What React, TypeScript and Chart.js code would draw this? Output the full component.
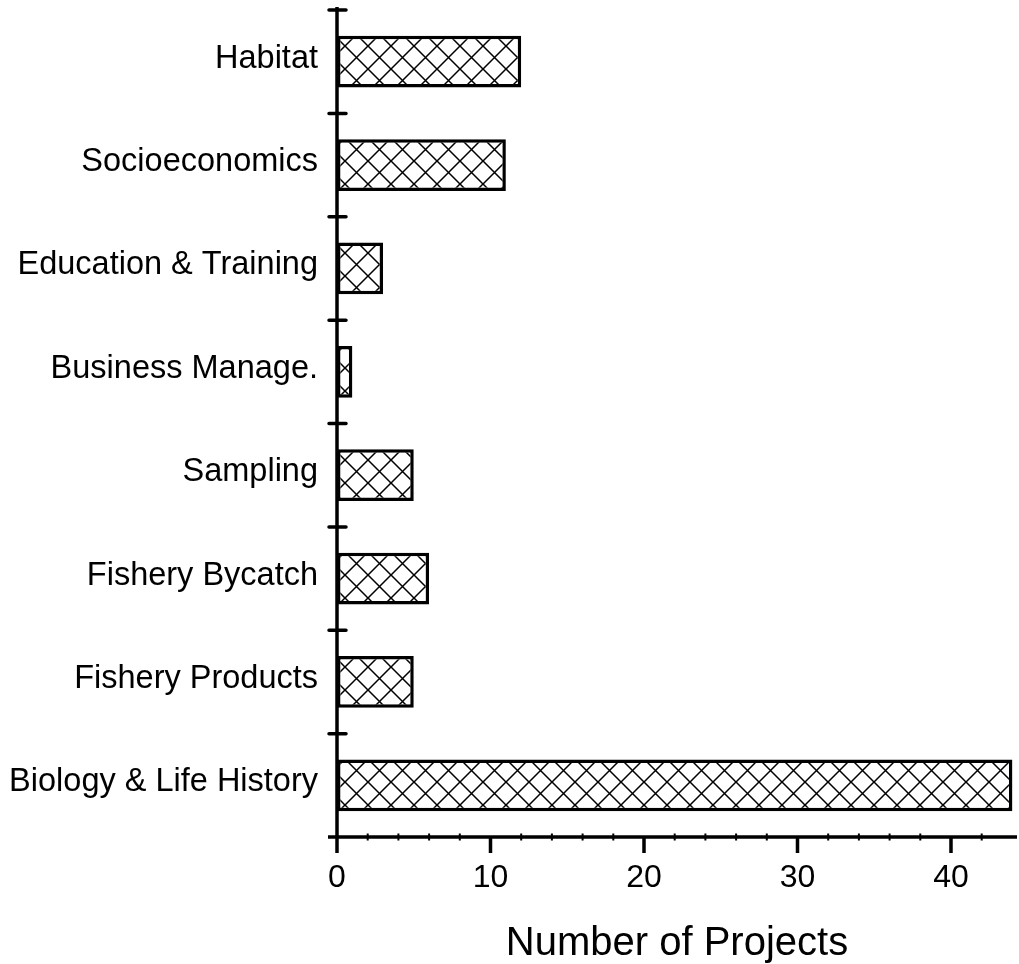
import React, { useEffect, useRef } from "react";
import { Chart, registerables } from "chart.js";

Chart.register(...registerables);

const categories = [
  "Habitat",
  "Socioeconomics",
  "Education & Training",
  "Business Manage.",
  "Sampling",
  "Fishery Bycatch",
  "Fishery Products",
  "Biology & Life History",
];
const projectCounts = [12, 11, 3, 1, 5, 6, 5, 44];
const xTickLabels = [0, 10, 20, 30, 40];
const xMinorStep = 2;
const xMax = 44.3;
const xTitle = "Number of Projects";

const W = 1019;
const H = 964;
const FONT = "'Liberation Sans', Arial, Helvetica, sans-serif";

function makeHatch(ctx: CanvasRenderingContext2D): CanvasPattern | string {
  const P = 23;
  const c = document.createElement("canvas");
  c.width = P;
  c.height = P;
  const g = c.getContext("2d");
  if (!g) return "#fff";
  g.fillStyle = "#fff";
  g.fillRect(0, 0, P, P);
  g.strokeStyle = "#000";
  g.lineWidth = 1.5;
  g.beginPath();
  for (const k of [-P, 0, P]) {
    g.moveTo(k - 2, -2);
    g.lineTo(k + P + 2, P + 2);
    g.moveTo(k - 2, P + 2);
    g.lineTo(k + P + 2, -2);
  }
  g.stroke();
  return ctx.createPattern(c, "repeat") || "#fff";
}

const axesPlugin = {
  id: "customAxes",
  afterDraw(chart: any) {
    const { ctx, chartArea, scales } = chart;
    const xs = scales.x;
    const ys = scales.y;
    const x0 = xs.getPixelForValue(0);
    const yb = chartArea.bottom;
    ctx.save();
    ctx.strokeStyle = "#000";
    ctx.lineWidth = 3.5;
    ctx.lineCap = "butt";
    // y axis line (extends below as the 0 tick)
    ctx.beginPath();
    ctx.moveTo(x0, chartArea.top - 3);
    ctx.lineTo(x0, yb + 16);
    ctx.stroke();
    // x axis line
    ctx.beginPath();
    ctx.moveTo(x0 - 9, yb);
    ctx.lineTo(chartArea.right, yb);
    ctx.stroke();
    // category boundary ticks
    ctx.lineCap = "round";
    ctx.beginPath();
    for (let i = 0; i < categories.length; i++) {
      const py = ys.getPixelForValue(i - 0.5);
      ctx.moveTo(x0 - 8, py);
      ctx.lineTo(x0 + 9, py);
    }
    ctx.stroke();
    // major ticks
    ctx.lineCap = "butt";
    ctx.beginPath();
    for (const v of xTickLabels) {
      if (v === 0) continue;
      const px = xs.getPixelForValue(v);
      ctx.moveTo(px, yb);
      ctx.lineTo(px, yb + 16);
    }
    ctx.stroke();
    // minor ticks
    ctx.lineWidth = 2;
    ctx.beginPath();
    for (const t of xs.ticks) {
      const v = t.value;
      if (v % xMinorStep !== 0 || xTickLabels.includes(v)) continue;
      const px = xs.getPixelForValue(v);
      ctx.moveTo(px, yb - 3.5);
      ctx.lineTo(px, yb + 3.5);
    }
    ctx.stroke();
    ctx.restore();
  },
};

export default function App() {
  const ref = useRef<HTMLCanvasElement | null>(null);

  useEffect(() => {
    const canvas = ref.current;
    if (!canvas) return;
    const ctx = canvas.getContext("2d");
    if (!ctx) return;
    const hatch = makeHatch(ctx);
    const chart = new Chart(ctx, {
      type: "bar",
      data: {
        labels: categories,
        datasets: [
          {
            data: projectCounts,
            backgroundColor: hatch as any,
            borderColor: "#000",
            borderWidth: 3.5,
            borderSkipped: false,
            barPercentage: 0.5,
            categoryPercentage: 1,
          },
        ],
      },
      options: {
        indexAxis: "y",
        responsive: false,
        animation: false,
        devicePixelRatio: 1,
        layout: { padding: { top: 10, right: 2, left: 0, bottom: 0 } },
        plugins: {
          legend: { display: false },
          tooltip: { enabled: false },
          title: { display: false },
        },
        scales: {
          x: {
            type: "linear",
            min: 0,
            max: xMax,
            grid: { display: false, drawTicks: false },
            border: { display: false },
            afterFit: (s: any) => {
              s.height = 127;
              s.paddingLeft = 0;
              s.paddingRight = 0;
            },
            ticks: {
              stepSize: xMinorStep,
              autoSkip: false,
              maxRotation: 0,
              padding: 22,
              color: "#000",
              font: { family: FONT, size: 32 },
              callback: (v: any) => (xTickLabels.includes(Number(v)) ? String(v) : ""),
            },
            title: {
              display: true,
              text: xTitle,
              color: "#000",
              font: { family: FONT, size: 40, lineHeight: 1 },
              padding: { top: 0, bottom: 0 },
            },
          },
          y: {
            type: "category",
            grid: { display: false, drawTicks: false },
            border: { display: false },
            afterFit: (s: any) => {
              s.width = 337;
              s.paddingTop = 0;
              s.paddingBottom = 0;
            },
            ticks: {
              autoSkip: false,
              padding: 19,
              labelOffset: -3,
              color: "#000",
              font: { family: FONT, size: 32.5 },
            },
          },
        },
      },
      plugins: [axesPlugin],
    });
    return () => chart.destroy();
  }, []);

  return (
    <div style={{ position: "absolute", left: 0, top: 0, width: W, height: H, background: "#fff" }}>
      <canvas ref={ref} width={W} height={H} style={{ width: W, height: H, display: "block" }} />
    </div>
  );
}
